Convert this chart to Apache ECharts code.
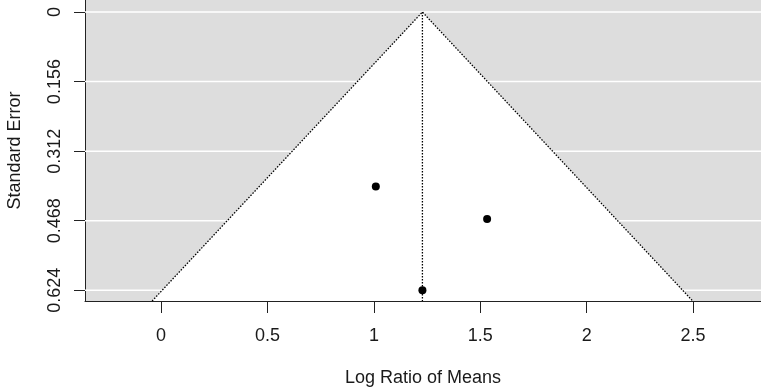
<!DOCTYPE html>
<html>
<head>
<meta charset="utf-8">
<script src="https://cdn.jsdelivr.net/npm/echarts@6/dist/echarts.min.js"></script>
<style>
html,body{margin:0;padding:0;background:#fff;}
#chart{width:761px;height:389px;}
</style>
</head>
<body>
<div id="chart"></div>
<script>
// ---- data ----
const xTicks = [0, 0.5, 1, 1.5, 2, 2.5];
const seTicks = [0, 0.156, 0.312, 0.468, 0.624];
const studyLogRatio = [1.009, 1.532, 1.228];
const studySE = [0.391, 0.464, 0.624];
const pooledEstimate = 1.228;
const seLimit = 0.648;       // bottom of the funnel (lower y limit)
const xRange = [-0.3575, 2.819];
const yRange = [-0.027, 0.648];
const zCrit = 1.96;

// ---- derived ----
const points = studyLogRatio.map((v, i) => [v, studySE[i]]);
const funnel = [
  [pooledEstimate - zCrit * seLimit, seLimit],
  [pooledEstimate, 0],
  [pooledEstimate + zCrit * seLimit, seLimit]
];
const centerLine = [[pooledEstimate, 0], [pooledEstimate, seLimit]];

const FONT = 'Liberation Sans, Arial, sans-serif';
const chart = echarts.init(document.getElementById('chart'), null, {renderer: 'canvas'});
chart.setOption({
  animation: false,
  backgroundColor: '#ffffff',
  grid: {
    left: 85, right: 0, top: 0, bottom: 88,
    containLabel: false, outerBoundsMode: 'none',
    show: true, backgroundColor: '#dddddd', borderWidth: 0
  },
  xAxis: {
    type: 'value', min: xRange[0], max: xRange[1],
    name: 'Log Ratio of Means', nameLocation: 'middle', nameGap: 68,
    nameTextStyle: {fontFamily: FONT, fontSize: 18, color: '#1a1a1a'},
    axisLine: {show: true, onZero: false, lineStyle: {color: '#222', width: 1}},
    axisTick: {show: true, length: 12, lineStyle: {color: '#222'}, customValues: xTicks},
    axisLabel: {customValues: xTicks, margin: 26, fontFamily: FONT, fontSize: 18, color: '#1a1a1a',
      formatter: v => String(v)},
    splitLine: {show: false}
  },
  yAxis: {
    type: 'value', min: yRange[0], max: yRange[1], inverse: true,
    name: 'Standard Error', nameLocation: 'middle', nameGap: 61, nameRotate: 90,
    nameTextStyle: {fontFamily: FONT, fontSize: 18, color: '#1a1a1a'},
    axisLine: {show: true, onZero: false, lineStyle: {color: '#222', width: 1}},
    axisTick: {show: true, length: 11, lineStyle: {color: '#222'}, customValues: seTicks},
    axisLabel: {customValues: seTicks, rotate: 90, margin: 21, fontFamily: FONT, fontSize: 18, color: '#1a1a1a',
      formatter: v => String(v)},
    splitLine: {show: false}
  },
  series: [
    {
      // white horizontal reference lines at the tick positions
      type: 'custom', silent: true, z: 1, clip: true,
      data: seTicks.map(v => [v]),
      encode: {y: 0},
      renderItem: function (params, api) {
        const y = api.value(0);
        const p1 = api.coord([xRange[0], y]);
        const p2 = api.coord([xRange[1], y]);
        return {type: 'line', shape: {x1: p1[0], y1: p1[1], x2: p2[0], y2: p2[1]},
          style: {stroke: '#ffffff', lineWidth: 1.5}};
      }
    },
    {
      // white funnel region
      type: 'custom', silent: true, z: 2,
      data: [0],
      clip: true,
      renderItem: function (params, api) {
        const pts = funnel.map(p => api.coord(p));
        return {type: 'polygon', shape: {points: pts}, style: {fill: '#ffffff', stroke: null}};
      }
    },
    {
      type: 'line', data: funnel, symbol: 'none', silent: true, z: 3,
      lineStyle: {color: '#000', width: 1.3, type: [1.5, 1.5]}
    },
    {
      type: 'line', data: centerLine, symbol: 'none', silent: true, z: 3,
      lineStyle: {color: '#000', width: 1.3, type: [1.5, 1.5]}
    },
    {
      type: 'scatter', data: points, symbol: 'circle', symbolSize: 8, z: 10, clip: false,
      itemStyle: {color: '#000000', opacity: 1}
    }
  ]
});
</script>
</body>
</html>
